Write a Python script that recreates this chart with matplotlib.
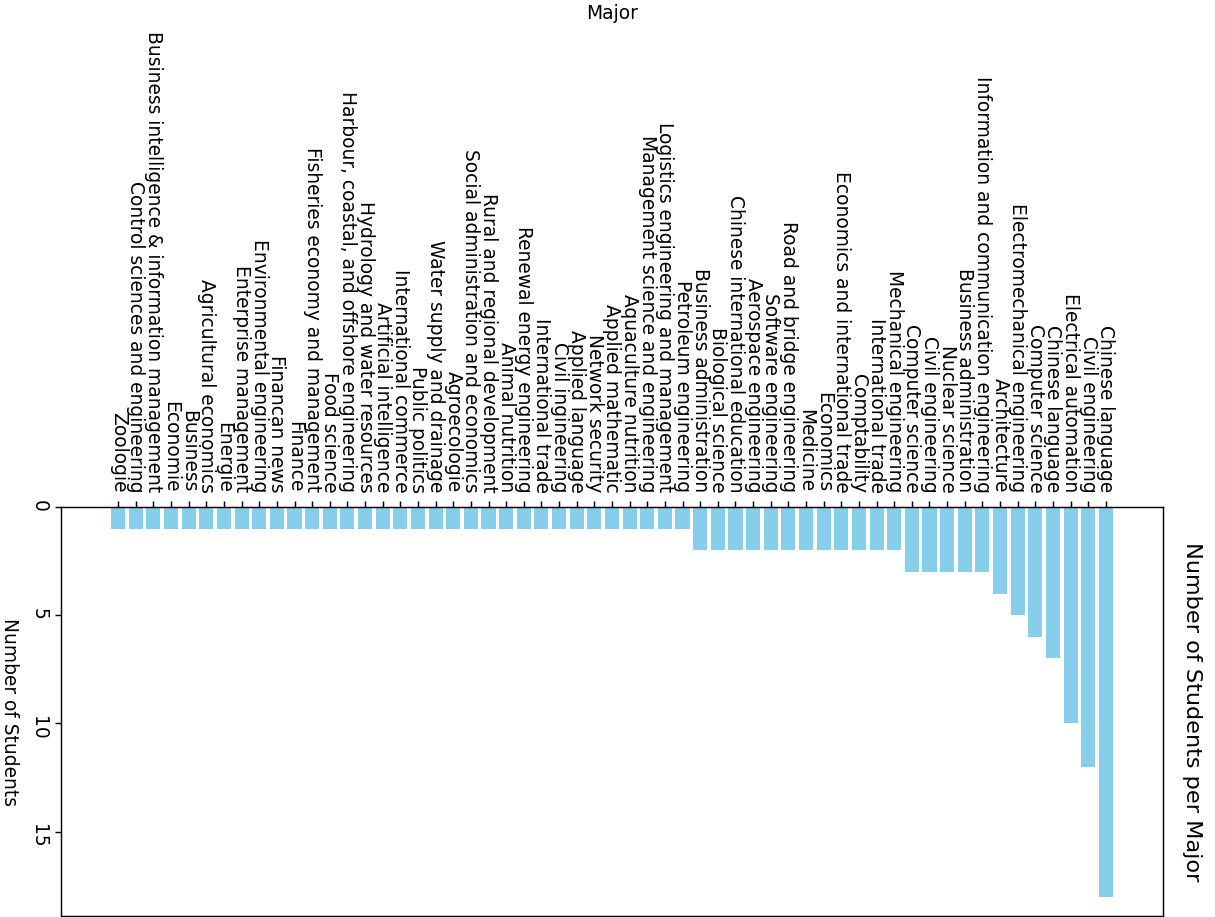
import matplotlib
matplotlib.use("Agg")
import matplotlib.pyplot as plt

majors = [
    "Zoologie", "Control sciences and engineering",
    "Business intelligence & information management", "Economie", "Business",
    "Agricultural economics", "Energie", "Enterprise management",
    "Environmental engineering", "Financan news", "Finance",
    "Fisheries economy and management", "Food science",
    "Harbour, coastal, and offshore engineering", "Hydrology and water resources",
    "Artificial intelligence", "International commerce", "Public politics",
    "Water supply and drainage", "Agroecologie",
    "Social administration and economics", "Rural and regional development",
    "Animal nutrition", "Renewal energy engineering", "International trade",
    "Civil ingineering", "Applied language", "Network security",
    "Applied mathematic", "Aquaculture nutrition",
    "Management science and engineering", "Logistics engineering and management",
    "Petroleum engineering", "Business administration", "Biological science",
    "Chinese international education", "Aerospace engineering",
    "Software engineering", "Road and bridge engineering", "Medicine",
    "Economics", "Economics and international trade", "Comptability",
    "International trade", "Mechanical engineering", "Computer science",
    "Civil engineering", "Nuclear science", "Business administration",
    "Information and communication engineering", "Architecture",
    "Electromechanical engineering", "Computer science", "Chinese language",
    "Electrical automation", "Civil engineering", "Chinese language",
]
counts = [1] * 33 + [2] * 12 + [3] * 5 + [4, 5, 6, 7, 10, 12, 18]
count_ticks = [0, 5, 10, 15]

plt.rcParams["font.size"] = 10.3

DPI = 130
fig = plt.figure(figsize=(1215 / DPI, 917 / DPI), dpi=DPI)
ax = fig.add_axes([0.0502, 0.0011, 0.907, 0.446])

positions = list(range(len(majors)))
ax.bar(positions, counts, color="skyblue", width=0.8)
ax.set_xticks(positions)
ax.set_xticklabels(majors, rotation=-90)
ax.xaxis.tick_top()
ax.xaxis.set_label_position("top")
ax.set_xlabel("Major", labelpad=7)
ax.set_yticks(count_ticks)
ax.invert_yaxis()
ax.tick_params(axis="y", labelrotation=-90)
ax.tick_params(axis="x", pad=4.5)
ax.set_ylabel("Number of Students", rotation=-90, va="top", labelpad=6)
fig.text(1192 / 1215, 1 - 712 / 917, "Number of Students per Major",
         rotation=-90, ha="center", va="center", fontsize=12.4)

fig.savefig("out.png", dpi=DPI)
